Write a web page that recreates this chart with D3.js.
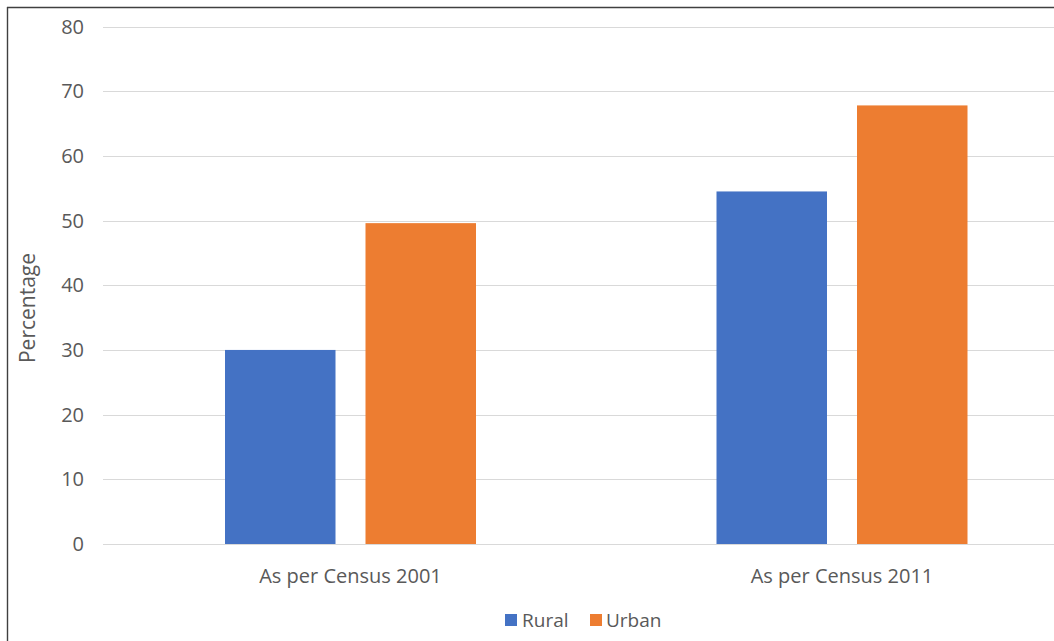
<!DOCTYPE html>
<html>
<head>
<meta charset="utf-8">
<script src="https://cdn.jsdelivr.net/npm/d3@7"></script>
<style>
  html, body { margin: 0; padding: 0; background: #fff; }
  svg { display: block; font-family: "Open Sans", "Liberation Sans", sans-serif; }
</style>
</head>
<body>
<svg id="chart" width="1054" height="641"></svg>
<script>
// Literacy share by census year
const categories = ["As per Census 2001", "As per Census 2011"];
const seriesNames = ["Rural", "Urban"];
const rural = [30, 54.5];
const urban = [49.6, 67.8];
const yTicks = [0, 10, 20, 30, 40, 50, 60, 70, 80];
const colors = ["#4472C4", "#ED7D31"];

const svg = d3.select("#chart");
const W = 1054, H = 641;

// frame lines (left and top edges)
svg.append("line").attr("x1", 7.5).attr("x2", 7.5).attr("y1", 7).attr("y2", H)
  .attr("stroke", "#404040").attr("stroke-width", 1.4);
svg.append("line").attr("x1", 7).attr("x2", W).attr("y1", 7.5).attr("y2", 7.5)
  .attr("stroke", "#404040").attr("stroke-width", 1.4);

const plotLeft = 104.75, plotRight = 1087.75;
const y = d3.scaleLinear().domain([0, 80]).range([544, 26.5]);
const x0 = d3.scaleBand().domain(categories).range([plotLeft, plotRight]).padding(0);
const bw = x0.bandwidth();
const groupW = 251;
const x1 = d3.scaleBand().domain(seriesNames)
  .range([(bw - groupW) / 2, (bw + groupW) / 2]).paddingInner(0.2135).paddingOuter(0);

// gridlines
svg.append("g").selectAll("line").data(yTicks).join("line")
  .attr("x1", 103).attr("x2", W)
  .attr("y1", d => Math.round(y(d)) + 0.5).attr("y2", d => Math.round(y(d)) + 0.5)
  .attr("stroke", "#d9d9d9").attr("stroke-width", 1.2);

// y tick labels
svg.append("g").selectAll("text").data(yTicks).join("text")
  .attr("x", 84).attr("y", d => y(d)).attr("dy", "0.35em")
  .attr("text-anchor", "end").attr("fill", "#595959")
  .style("font-size", "20px").text(d => d);

// bars
const rows = categories.map((c, i) => ({ cat: c, values: [rural[i], urban[i]] }));
const groups = svg.append("g").selectAll("g").data(rows).join("g")
  .attr("transform", d => `translate(${x0(d.cat)},0)`);
groups.selectAll("rect").data(d => d.values.map((v, j) => ({ key: seriesNames[j], v, j })))
  .join("rect")
  .attr("x", d => x1(d.key)).attr("width", x1.bandwidth())
  .attr("y", d => y(d.v)).attr("height", d => y(0) - y(d.v))
  .attr("fill", d => colors[d.j]);

// category labels
svg.append("g").selectAll("text").data(categories).join("text")
  .attr("x", d => x0(d) + bw / 2).attr("y", 583)
  .attr("text-anchor", "middle").attr("fill", "#595959")
  .style("font-size", "20px").text(d => d);

// y axis title
svg.append("text")
  .attr("transform", "translate(35,308) rotate(-90)")
  .attr("text-anchor", "middle").attr("fill", "#595959")
  .style("font-size", "21px").text("Percentage");

// legend
const legendItems = [
  { name: "Rural", sx: 505, tx: 522 },
  { name: "Urban", sx: 590, tx: 606 }
];
const lg = svg.append("g");
legendItems.forEach((d, i) => {
  lg.append("rect").attr("x", d.sx).attr("y", 614).attr("width", 12).attr("height", 12)
    .attr("fill", colors[i]);
  lg.append("text").attr("x", d.tx).attr("y", 627)
    .attr("fill", "#595959").style("font-size", "19px").text(d.name);
});
</script>
</body>
</html>
